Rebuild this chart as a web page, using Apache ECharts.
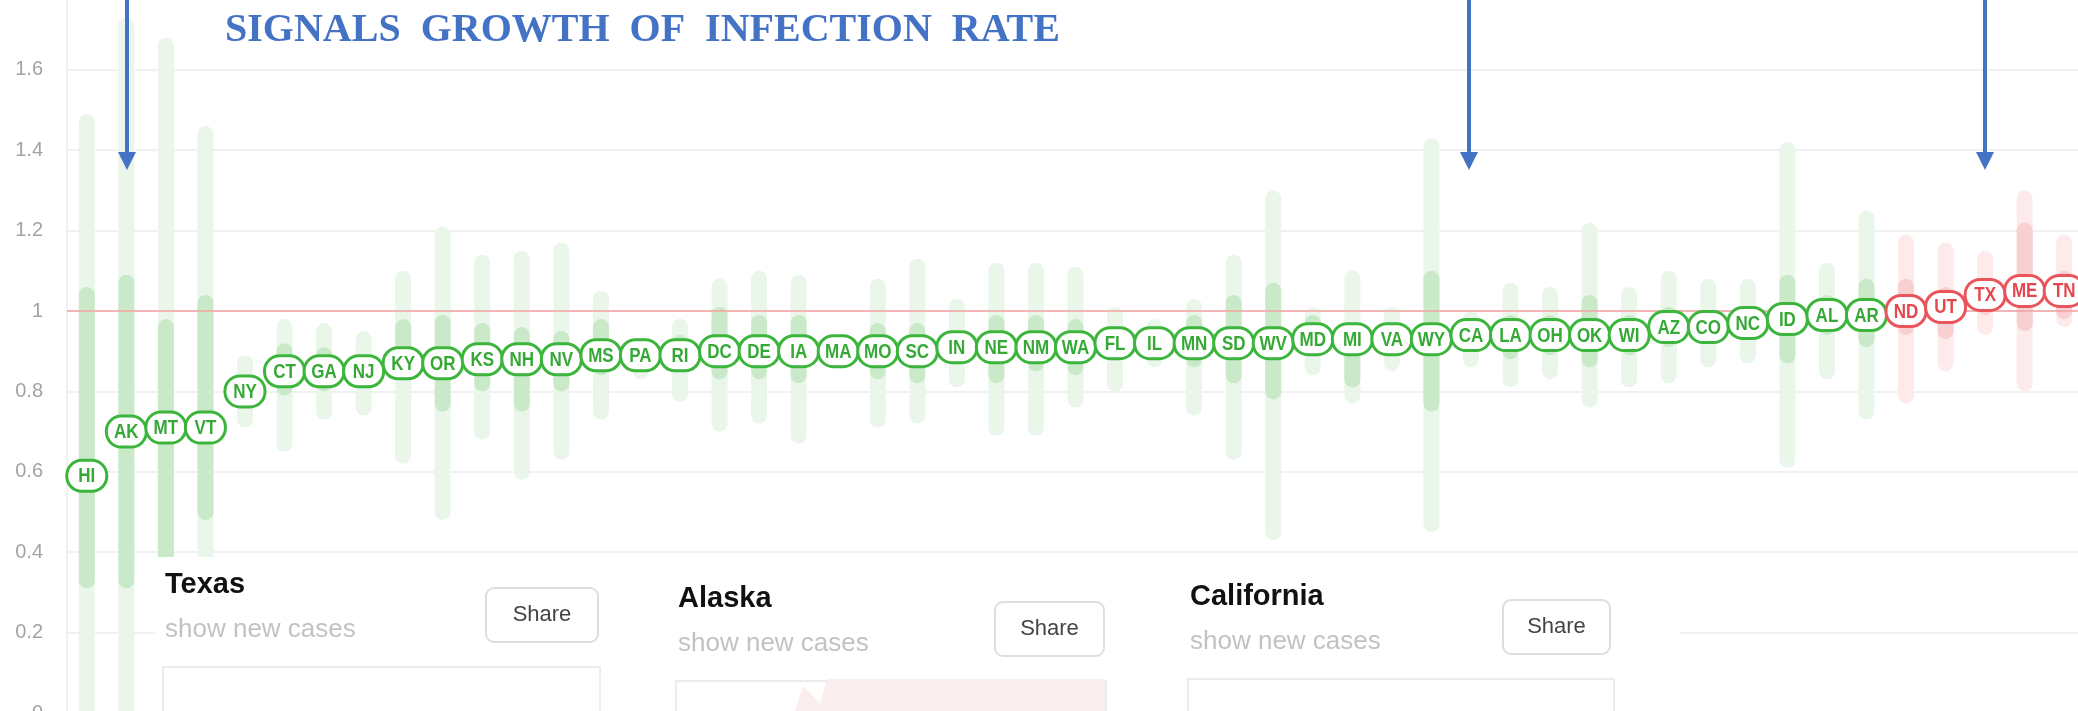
<!DOCTYPE html>
<html>
<head>
<meta charset="utf-8">
<script src="https://cdn.jsdelivr.net/npm/echarts@6/dist/echarts.min.js"></script>
<style>
html, body { margin: 0; padding: 0; width: 2078px; height: 711px; overflow: hidden; background: #fff; }
#main { position: absolute; left: 0; top: 0; width: 2100px; height: 740px; clip-path: inset(0 0 0 15px); }
</style>
</head>
<body>
<div id="main"></div>
<script>
// states sorted by Rt, lowest first
var states = ['HI','AK','MT','VT','NY','CT','GA','NJ','KY','OR','KS','NH','NV','MS','PA','RI','DC','DE','IA','MA',
  'MO','SC','IN','NE','NM','WA','FL','IL','MN','SD','WV','MD','MI','VA','WY','CA','LA','OH','OK','WI',
  'AZ','CO','NC','ID','AL','AR','ND','UT','TX','ME','TN'];
var rtValues = [0.59,0.70,0.71,0.71,0.80,0.85,0.85,0.85,0.87,0.87,0.88,0.88,0.88,0.89,0.89,0.89,0.90,0.90,0.90,0.90,
  0.90,0.90,0.91,0.91,0.91,0.91,0.92,0.92,0.92,0.92,0.92,0.93,0.93,0.93,0.93,0.94,0.94,0.94,0.94,0.94,
  0.96,0.96,0.97,0.98,0.99,0.99,1.00,1.01,1.04,1.05,1.05];
// 90% interval
var low90 = [-0.1,-0.1,-0.1,0.05,0.71,0.65,0.73,0.74,0.62,0.48,0.68,0.58,0.63,0.73,0.83,0.775,0.70,0.72,0.67,0.86,
  0.71,0.72,0.81,0.69,0.69,0.76,0.80,0.86,0.74,0.63,0.43,0.84,0.77,0.85,0.45,0.86,0.81,0.83,0.76,0.81,
  0.82,0.86,0.87,0.61,0.83,0.73,0.77,0.85,0.94,0.80,0.96];
var high90 = [1.49,1.73,1.68,1.46,0.89,0.98,0.97,0.95,1.10,1.21,1.14,1.15,1.17,1.05,0.93,0.98,1.08,1.10,1.09,0.94,
  1.08,1.13,1.03,1.12,1.12,1.11,1.01,0.98,1.03,1.14,1.30,1.01,1.10,1.01,1.43,1.00,1.07,1.06,1.22,1.06,
  1.10,1.08,1.08,1.42,1.12,1.25,1.19,1.17,1.15,1.30,1.19];
// 50% interval
var low50 = [0.31,0.31,0.30,0.48,0.77,0.79,0.80,0.81,0.83,0.75,0.80,0.75,0.80,0.84,0.86,0.85,0.83,0.83,0.82,0.88,
  0.83,0.82,0.87,0.82,0.85,0.84,0.88,0.89,0.86,0.82,0.78,0.89,0.81,0.89,0.75,0.90,0.88,0.89,0.86,0.89,
  0.91,0.92,0.93,0.87,0.94,0.91,0.94,0.93,0.99,0.95,0.98];
var high50 = [1.06,1.09,0.98,1.04,0.83,0.92,0.91,0.89,0.98,0.99,0.97,0.96,0.95,0.98,0.92,0.94,1.01,0.99,0.99,0.92,
  0.97,0.97,0.95,0.99,0.99,0.98,0.96,0.95,0.99,1.04,1.07,0.99,0.97,0.97,1.10,0.98,0.99,0.99,1.04,0.99,
  1.01,1.00,1.01,1.09,1.04,1.08,1.08,1.06,1.08,1.22,1.10];

var yMin = 0, yMax = 713 / 402, yStep = 0.2;
var blue = '#4472c4';

function isRed(i) { return rtValues[i] >= 1; }

function bandSeries(low, high, greenFill, redFill) {
  return {
    type: 'custom',
    data: states.map(function (s, i) { return [i, low[i], high[i]]; }),
    encode: { x: 0, y: [1, 2] },
    renderItem: function (params, api) {
      var i = api.value(0);
      var top = api.coord([i, api.value(2)]);
      var bot = api.coord([i, api.value(1)]);
      return {
        type: 'rect',
        shape: { x: top[0] - 8, y: top[1], width: 16, height: bot[1] - top[1], r: 8 },
        style: { fill: isRed(i) ? redFill : greenFill }
      };
    }
  };
}

var lightBars = bandSeries(low90, high90, '#eaf6ea', '#fdebec');
var darkBars = bandSeries(low50, high50, '#c9e9c9', '#f8d0d2');
darkBars.markLine = {
  silent: true,
  symbol: 'none',
  label: { show: false },
  lineStyle: { color: '#f2a2a2', width: 1.5, type: 'solid' },
  data: [{ yAxis: 1 }]
};

var pills = {
  type: 'custom',
  z: 5,
  data: rtValues.map(function (v, i) { return [i, v]; }),
  encode: { x: 0, y: 1 },
  renderItem: function (params, api) {
    var i = api.value(0);
    var p = api.coord([i, api.value(1)]);
    var red = isRed(i);
    return {
      type: 'group',
      children: [{
        type: 'rect',
        shape: { x: p[0] - 20, y: p[1] - 15.5, width: 40, height: 31, r: 15 },
        style: { fill: '#fff', stroke: red ? '#e9555b' : '#3cb53c', lineWidth: 3 }
      }, {
        type: 'text',
        x: p[0], y: p[1] + 1, scaleX: 0.85,
        style: {
          text: states[i], x: 0, y: 0,
          align: 'center', verticalAlign: 'middle',
          font: 'bold 20px "Liberation Sans"',
          fill: red ? '#e3474d' : '#36a836'
        }
      }]
    };
  }
};

function arrow(x) {
  return [{
    type: 'line', z: 20,
    shape: { x1: x, y1: 0, x2: x, y2: 156 },
    style: { stroke: blue, lineWidth: 4 }
  }, {
    type: 'polygon', z: 20,
    shape: { points: [[x - 9, 152], [x + 9, 152], [x, 170]] },
    style: { fill: blue }
  }];
}

function card(title, x, dy, boxWidth, shareX, shareW) {
  return [{
    type: 'text', z: 21,
    style: { text: title, x: x, y: 585 + dy, verticalAlign: 'middle', font: 'bold 29px "Liberation Sans"', fill: '#111' }
  }, {
    type: 'text', z: 21,
    style: { text: 'show new cases', x: x, y: 630 + dy, verticalAlign: 'middle', font: '26px "Liberation Sans"', fill: '#c2c2c2' }
  }, {
    type: 'rect', z: 21,
    shape: { x: shareX, y: 588 + dy, width: shareW, height: 54, r: 8 },
    style: { fill: '#fff', stroke: '#dedede', lineWidth: 2 }
  }, {
    type: 'text', z: 22,
    style: { text: 'Share', x: shareX + shareW / 2, y: 615 + dy, align: 'center', verticalAlign: 'middle', font: '22px "Liberation Sans"', fill: '#444' }
  }, {
    type: 'rect', z: 21,
    shape: { x: x - 2, y: 667 + dy, width: boxWidth, height: 100 },
    style: { fill: '#fff', stroke: '#e6e6e6', lineWidth: 1.5 }
  }];
}

var graphics = [].concat(
  [{
    type: 'text', z: 20,
    style: {
      text: 'SIGNALS  GROWTH  OF  INFECTION  RATE', x: 225, y: 31,
      verticalAlign: 'middle', font: 'bold 40px "Liberation Serif"', fill: blue
    }
  }],
  arrow(127), arrow(1469), arrow(1985),
  [{
    type: 'rect', z: 19,
    shape: { x: 155, y: 557, width: 1525, height: 200 },
    style: { fill: '#fff' }
  }],
  card('Texas', 165, 0, 437, 486, 112),
  card('Alaska', 678, 14, 430, 995, 109),
  card('California', 1190, 12, 426, 1503, 107),
  [{
    type: 'polygon', z: 22,
    shape: { points: [[827, 679], [820, 703], [803, 686], [795, 711], [1105, 711], [1105, 679]] },
    style: { fill: '#fbeeee' }
  }]
);

var chart = echarts.init(document.getElementById('main'));
chart.setOption({
  animation: false,
  grid: { left: 67, right: 16, top: 0, bottom: 27 },
  xAxis: {
    type: 'category',
    data: states,
    show: false
  },
  yAxis: {
    type: 'value',
    min: yMin, max: yMax, interval: yStep,
    axisLine: { show: true, lineStyle: { color: '#ececec', width: 1.5 } },
    axisTick: { show: false },
    axisLabel: { showMaxLabel: false, margin: 24, color: '#a3a3a3', fontSize: 20, fontFamily: 'Liberation Sans' },
    splitLine: { showMaxLine: false, lineStyle: { color: '#ededed', width: 1.5 } }
  },
  series: [lightBars, darkBars, pills],
  graphic: graphics
});
</script>
</body>
</html>
